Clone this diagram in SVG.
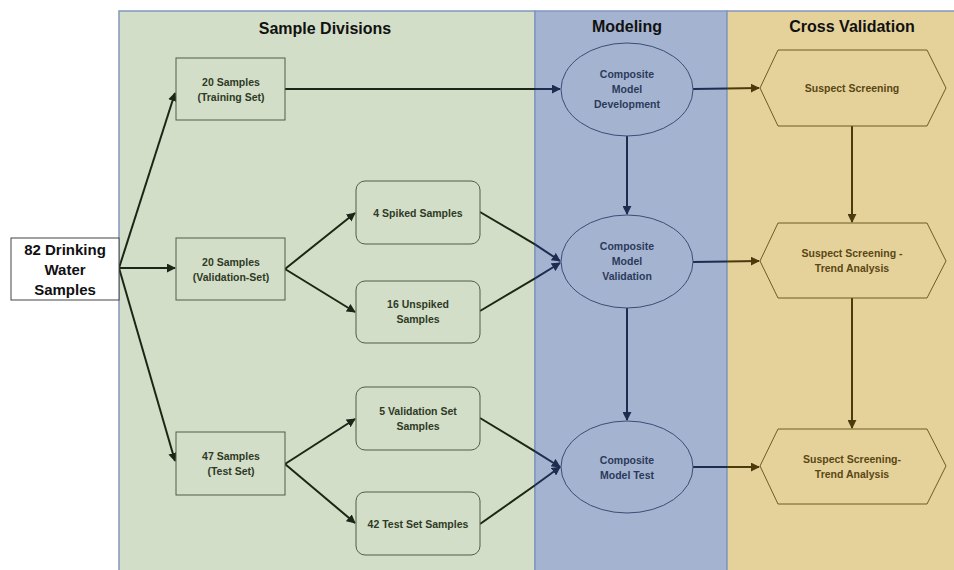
<svg xmlns="http://www.w3.org/2000/svg" width="954" height="570" viewBox="0 0 954 570">
<defs>
<style>
.pg{fill:#d3dec8;stroke:#8197be;stroke-width:1.5}
.pb{fill:#a4b3d0;stroke:#8197be;stroke-width:1.5}
.pt{fill:#e5d29b;stroke:#8197be;stroke-width:1.5}
.title{font-family:"Liberation Sans",Arial,sans-serif;font-weight:bold;font-size:16px;fill:#111;text-anchor:middle}
.t{font-family:"Liberation Sans",Arial,sans-serif;font-weight:bold;font-size:10.5px;text-anchor:middle}
.tg{fill:#2e3a25}.tb{fill:#2b3a5b}.tt{fill:#5a4714}
.ng{fill:#d3dec8;stroke:#4f5e45;stroke-width:1}
.nb{fill:#a4b3d0;stroke:#3b4d75;stroke-width:1}
.nt{fill:#e5d29b;stroke:#6e5a25;stroke-width:1}
.cg{stroke:#1c2616;stroke-width:2;fill:none}
.cb{stroke:#1d2c50;stroke-width:2;fill:none}
.ct{stroke:#4a3a0c;stroke-width:2;fill:none}
</style>
<marker id="ag" viewBox="0 0 10 10" refX="9" refY="5" markerWidth="4.5" markerHeight="4.5" orient="auto" markerUnits="strokeWidth"><path d="M0,0 L10,5 L0,10 z" fill="#1c2616"/></marker>
<marker id="ab" viewBox="0 0 10 10" refX="9" refY="5" markerWidth="4.5" markerHeight="4.5" orient="auto" markerUnits="strokeWidth"><path d="M0,0 L10,5 L0,10 z" fill="#1d2c50"/></marker>
<marker id="at" viewBox="0 0 10 10" refX="9" refY="5" markerWidth="4.5" markerHeight="4.5" orient="auto" markerUnits="strokeWidth"><path d="M0,0 L10,5 L0,10 z" fill="#4a3a0c"/></marker>
</defs>
<rect width="954" height="570" fill="#ffffff"/>
<g id="panels">
<rect class="pg" x="119" y="11" width="416" height="565"/>
<rect class="pb" x="535" y="11" width="192" height="565"/>
<rect class="pt" x="727" y="11" width="232" height="565"/>
<text class="title" x="325" y="34">Sample Divisions</text>
<text class="title" x="627" y="32">Modeling</text>
<text class="title" x="852" y="32">Cross Validation</text>
</g>
<g id="connectors">
<line class="cg" x1="119" y1="268" x2="175" y2="93" marker-end="url(#ag)"/>
<line class="cg" x1="119" y1="268" x2="175" y2="268" marker-end="url(#ag)"/>
<line class="cg" x1="119" y1="268" x2="175" y2="461" marker-end="url(#ag)"/>
<line class="cg" x1="285" y1="89" x2="535" y2="89"/>
<line class="cb" x1="535" y1="89" x2="560" y2="89" marker-end="url(#ab)"/>
<line class="cg" x1="285" y1="269" x2="355" y2="213" marker-end="url(#ag)"/>
<line class="cg" x1="285" y1="269" x2="355" y2="312" marker-end="url(#ag)"/>
<line class="cg" x1="285" y1="464" x2="355" y2="419" marker-end="url(#ag)"/>
<line class="cg" x1="285" y1="464" x2="355" y2="523" marker-end="url(#ag)"/>
<line class="cg" x1="480" y1="212" x2="535" y2="244.3"/>
<line class="cb" x1="535" y1="244.3" x2="560" y2="261" marker-end="url(#ab)"/>
<line class="cg" x1="480" y1="311" x2="535" y2="278.3"/>
<line class="cb" x1="535" y1="278.3" x2="560" y2="263" marker-end="url(#ab)"/>
<line class="cg" x1="480" y1="418" x2="535" y2="451.3"/>
<line class="cb" x1="535" y1="451.3" x2="560" y2="467" marker-end="url(#ab)"/>
<line class="cg" x1="480" y1="524" x2="535" y2="485.3"/>
<line class="cb" x1="535" y1="485.3" x2="560" y2="467" marker-end="url(#ab)"/>
<line class="cb" x1="693" y1="89" x2="727" y2="88.5"/>
<line class="ct" x1="727" y1="88.5" x2="759" y2="88" marker-end="url(#at)"/>
<line class="cb" x1="693" y1="262" x2="727" y2="261.5"/>
<line class="ct" x1="727" y1="261.5" x2="759" y2="261" marker-end="url(#at)"/>
<line class="cb" x1="693" y1="467" x2="727" y2="467"/>
<line class="ct" x1="727" y1="467" x2="759" y2="467" marker-end="url(#at)"/>
<line class="cb" x1="627" y1="136" x2="627" y2="214" marker-end="url(#ab)"/>
<line class="cb" x1="627" y1="308" x2="627" y2="420" marker-end="url(#ab)"/>
<line class="ct" x1="852" y1="126" x2="852" y2="222" marker-end="url(#at)"/>
<line class="ct" x1="852" y1="298" x2="852" y2="428" marker-end="url(#at)"/>
</g>
<g id="source">
<rect x="11" y="238" width="108" height="62" fill="#ffffff" stroke="#444" stroke-width="1"/>
<text font-family="Liberation Sans,Arial,sans-serif" font-weight="bold" font-size="15" fill="#111" text-anchor="middle"><tspan x="65" y="255">82 Drinking</tspan><tspan x="65" y="275">Water</tspan><tspan x="65" y="295">Samples</tspan></text>
</g>
<g id="training">
<rect class="ng" x="176" y="58" width="109" height="62"/>
<text class="t tg"><tspan x="231" y="86">20 Samples</tspan><tspan x="231" y="101">(Training Set)</tspan></text>
</g>
<g id="validation">
<rect class="ng" x="176" y="238" width="109" height="62"/>
<text class="t tg"><tspan x="231" y="266">20 Samples</tspan><tspan x="231" y="281">(Validation-Set)</tspan></text>
</g>
<g id="test">
<rect class="ng" x="176" y="432" width="109" height="63"/>
<text class="t tg"><tspan x="231" y="460">47 Samples</tspan><tspan x="231" y="475">(Test Set)</tspan></text>
</g>
<g id="spiked">
<rect class="ng" x="356" y="181" width="124" height="63" rx="9"/>
<text class="t tg" x="418" y="217">4 Spiked Samples</text>
</g>
<g id="unspiked">
<rect class="ng" x="356" y="281" width="124" height="62" rx="9"/>
<text class="t tg"><tspan x="418" y="308">16 Unspiked</tspan><tspan x="418" y="323">Samples</tspan></text>
</g>
<g id="valsetsamples">
<rect class="ng" x="356" y="387" width="124" height="63" rx="9"/>
<text class="t tg"><tspan x="418" y="415">5 Validation Set</tspan><tspan x="418" y="430">Samples</tspan></text>
</g>
<g id="testsetsamples">
<rect class="ng" x="356" y="492" width="124" height="63" rx="9"/>
<text class="t tg" x="418" y="528">42 Test Set Samples</text>
</g>
<g id="modeldev">
<ellipse class="nb" cx="627" cy="89.5" rx="66" ry="46.5"/>
<text class="t tb"><tspan x="627" y="78">Composite</tspan><tspan x="627" y="93">Model</tspan><tspan x="627" y="108">Development</tspan></text>
</g>
<g id="modelval">
<ellipse class="nb" cx="627" cy="261.5" rx="66" ry="46.5"/>
<text class="t tb"><tspan x="627" y="250">Composite</tspan><tspan x="627" y="265">Model</tspan><tspan x="627" y="280">Validation</tspan></text>
</g>
<g id="modeltest">
<ellipse class="nb" cx="627" cy="467" rx="66" ry="46"/>
<text class="t tb"><tspan x="627" y="464">Composite</tspan><tspan x="627" y="479">Model Test</tspan></text>
</g>
<g id="screening">
<polygon class="nt" points="760,88 778,50 927,50 946,88 927,126 778,126"/>
<text class="t tt" x="852" y="92">Suspect Screening</text>
</g>
<g id="screening2">
<polygon class="nt" points="760,261 778,223 927,223 946,261 927,298 778,298"/>
<text class="t tt"><tspan x="852" y="257">Suspect Screening -</tspan><tspan x="852" y="272">Trend Analysis</tspan></text>
</g>
<g id="screening3">
<polygon class="nt" points="760,466 778,429 927,429 946,466 927,504 778,504"/>
<text class="t tt"><tspan x="852" y="463">Suspect Screening-</tspan><tspan x="852" y="478">Trend Analysis</tspan></text>
</g>
</svg>
